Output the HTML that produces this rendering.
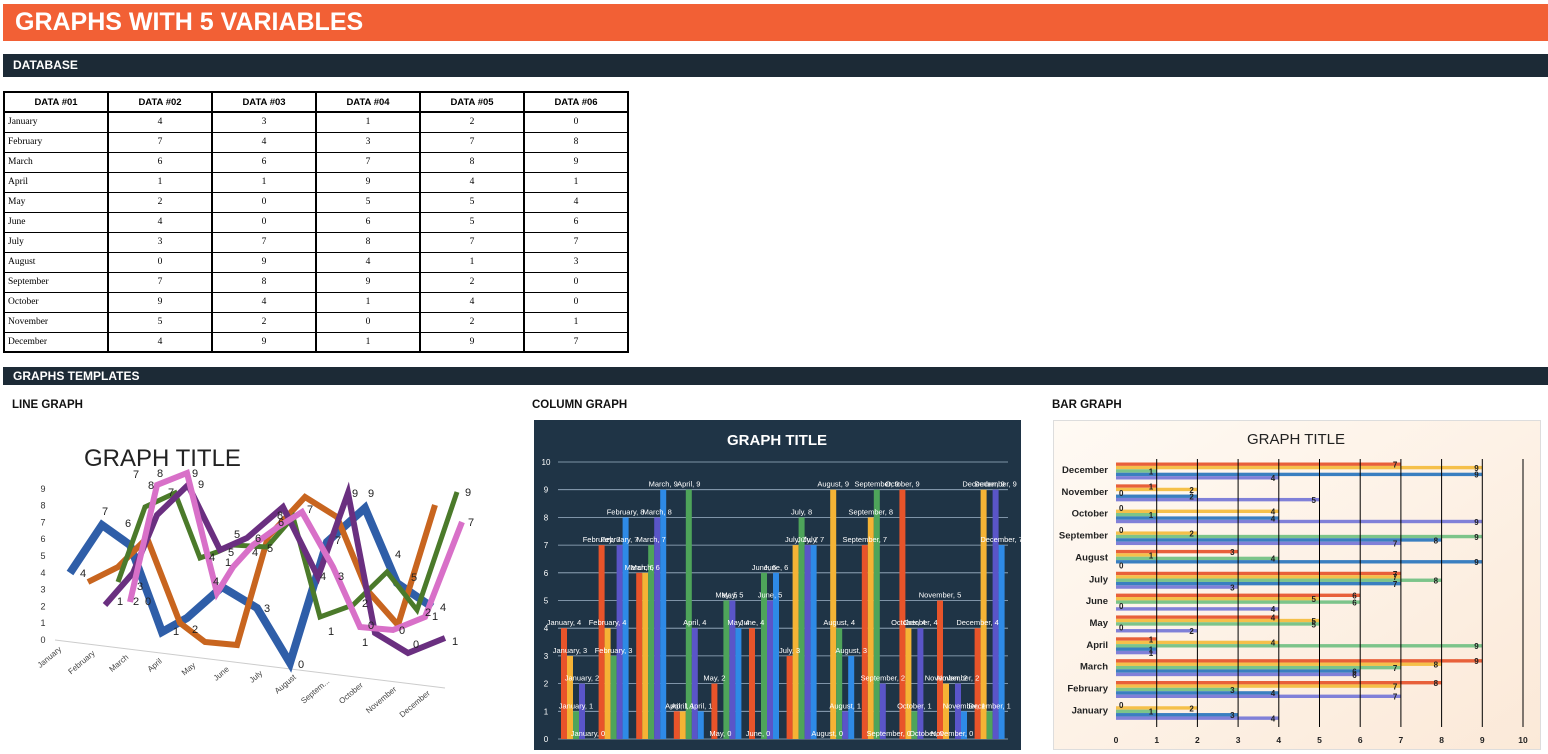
<!DOCTYPE html>
<html><head><meta charset="utf-8"><style>
*{margin:0;padding:0;box-sizing:border-box}
body{width:1548px;height:754px;background:#fff;position:relative;overflow:hidden;font-family:"Liberation Sans",sans-serif}
.abs{position:absolute}
.title{left:3px;top:4px;width:1545px;height:37px;background:#f26035;color:#fff;font-weight:bold;font-size:25px;line-height:37px;padding-left:12px}
.sec{left:3px;width:1545px;background:#1c2a36;color:#fff;font-weight:bold;font-size:12px;padding-left:10px}
.lab{font-weight:bold;font-size:11.5px;color:#111}
table{position:absolute;left:3px;top:91px;border-collapse:collapse;border:2px solid #000}
td,th{width:104px;height:20px;border:1px solid #000;font-size:9.5px;text-align:center;font-family:"Liberation Serif",serif}
th{font-family:"Liberation Sans",sans-serif;font-weight:bold;border-bottom:2px solid #000;border-right:2px solid #000}
td{border-right:2px solid #000}
td:first-child{text-align:left;padding-left:3px}
</style></head><body>
<div class="abs title">GRAPHS WITH 5 VARIABLES</div>
<div class="abs sec" style="top:54px;height:23px;line-height:23px">DATABASE</div>
<table id="tb"><tr><th>DATA #01</th><th>DATA #02</th><th>DATA #03</th><th>DATA #04</th><th>DATA #05</th><th>DATA #06</th></tr></table>
<div class="abs sec" style="top:367px;height:18px;line-height:18px">GRAPHS TEMPLATES</div>
<div class="abs lab" style="left:12px;top:399px">LINE GRAPH</div>
<div class="abs lab" style="left:532px;top:399px">COLUMN GRAPH</div>
<div class="abs lab" style="left:1052px;top:399px">BAR GRAPH</div>
<svg id="sv" class="abs" style="left:0;top:0" width="1548" height="754" font-family="Liberation Sans, sans-serif"></svg>
<script>
var M=["January","February","March","April","May","June","July","August","September","October","November","December"];
var D=[[4,3,1,2,0],[7,4,3,7,8],[6,6,7,8,9],[1,1,9,4,1],[2,0,5,5,4],[4,0,6,5,6],[3,7,8,7,7],[0,9,4,1,3],[7,8,9,2,0],[9,4,1,4,0],[5,2,0,2,1],[4,9,1,9,7]];
var tb=document.getElementById('tb');
D.forEach(function(r,i){var tr=document.createElement('tr');tr.innerHTML='<td>'+M[i]+'</td>'+r.map(function(v){return '<td>'+v+'</td>'}).join('');tb.appendChild(tr);});
var s='';
s+='<text x="84" y="466" font-size="24" fill="#222">GRAPH TITLE</text>';
for(var k=0;k<=9;k++)s+='<text x="43" y="'+(643-k*16.8)+'" font-size="9" text-anchor="middle" fill="#333">'+k+'</text>';
s+='<line x1="55" y1="640" x2="445" y2="688" stroke="#ccc"/>';
M.forEach(function(m,i){var x=62+i*33.5,y=650+i*4;s+='<text transform="translate('+x+','+y+') rotate(-40)" font-size="8" text-anchor="end" fill="#444">'+(i==8?"Septem...":m)+'</text>'});
var L=[["#2f5ea8",8,"70,573 102,525 130,545 162,632 187,618 222,587 257,608 290,663 327,542 365,508 397,583 432,607"],
["#c8651f",6,"88,582 118,567 147,538 180,623 205,642 237,645 268,537 305,497 337,517 367,590 398,625 435,505"],
["#4b7a2a",5,"118,582 145,507 175,493 200,558 217,552 233,545 267,547 293,517 320,617 353,605 387,572 417,610 457,492"],
["#6a2f80",6,"105,605 133,573 157,515 188,485 220,550 247,538 283,507 318,577 348,493 375,633 408,653 445,638"],
["#d870c8",6,"130,602 157,485 187,473 217,593 233,567 253,545 278,527 302,512 333,567 360,627 393,630 425,617 462,522"]];
L.forEach(function(l){s+='<polyline points="'+l[2]+'" fill="none" stroke="'+l[0]+'" stroke-width="'+l[1]+'" stroke-linejoin="miter"/>'});
var LL=[[80,577,4],[102,515,7],[125,527,6],[148,489,8],[157,477,8],[133,478,7],[117,605,1],[133,605,2],[145,605,0],[137,590,3],[192,477,9],[198,488,9],[168,496,7],[234,538,5],[228,556,5],[209,561,4],[213,585,4],[225,566,1],[252,556,4],[255,542,6],[267,552,5],[173,635,1],[192,633,2],[264,612,3],[277,519,8],[307,513,7],[278,526,6],[298,668,0],[320,580,4],[338,580,3],[328,635,1],[352,497,9],[368,497,9],[335,544,7],[362,607,2],[368,629,0],[362,646,1],[395,558,4],[411,581,5],[413,648,0],[399,634,0],[425,616,2],[432,620,1],[440,611,4],[452,645,1],[465,496,9],[468,526,7]];
LL.forEach(function(a){s+='<text x="'+a[0]+'" y="'+a[1]+'" font-size="11" fill="#222">'+a[2]+'</text>'});
s+='<rect x="534" y="420" width="487" height="330" fill="#1f3446"/>';
s+='<text x="777" y="445" font-size="15" font-weight="bold" fill="#fff" text-anchor="middle">GRAPH TITLE</text>';
var cz=739,cs=27.7;
for(k=0;k<=10;k++){var y=cz-k*cs;s+='<line x1="558" y1="'+y+'" x2="1008" y2="'+y+'" stroke="#9fb3c8" stroke-width="0.8"/><text x="546" y="'+(y+3)+'" font-size="8" fill="#fff" text-anchor="middle">'+k+'</text>'}
var CC=["#e8542a","#f5b335","#4ea45a","#5a55c8","#2e8ae6"];
var lbl='';
D.forEach(function(r,i){r.forEach(function(v,j){var x=561+i*37.6+j*6,h=v*cs;s+='<rect x="'+x+'" y="'+(cz-h)+'" width="6" height="'+h+'" fill="'+CC[j]+'"/>';lbl+='<text x="'+(x+3)+'" y="'+(cz-h-3)+'" font-size="7.5" fill="#fff" text-anchor="middle">'+M[i]+', '+v+'</text>'})});
s+=lbl;
s+='<defs><linearGradient id="bg" x1="0" y1="0" x2="1" y2="1"><stop offset="0" stop-color="#fffaf4"/><stop offset="1" stop-color="#fbe9d8"/></linearGradient></defs>';
s+='<rect x="1053.5" y="420.5" width="487" height="329" fill="url(#bg)" stroke="#ddd"/>';
s+='<text x="1296" y="444" font-size="15" fill="#222" text-anchor="middle">GRAPH TITLE</text>';
var bx=1116,bs=40.7,BC=["#e8603a","#f5c04a","#7cc48a","#3a7fc0","#8080d8"];
var bl='';
for(i=0;i<12;i++){var mi=11-i,gy=462+i*21.85,r=D[mi],vals=[r[4],r[3],r[2],r[1],r[0]];
 s+='<text x="1108" y="'+(gy+11)+'" font-size="9.5" font-weight="bold" text-anchor="end" fill="#222">'+M[mi]+'</text>';
 vals.forEach(function(v,j){var y=gy+0.5+j*3.4;s+='<rect x="'+bx+'" y="'+y+'" width="'+(v*bs)+'" height="3.4" fill="'+BC[j]+'"/>';bl+='<text x="'+(v==0?bx+3:bx+v*bs-8)+'" y="'+(y+5)+'" font-size="8" font-weight="bold" fill="#222">'+v+'</text>'})}
for(k=1;k<=10;k++){var x=bx+k*bs;s+='<line x1="'+x+'" y1="459" x2="'+x+'" y2="727" stroke="#000" stroke-width="1"/>'}
for(k=0;k<=10;k++)s+='<text x="'+(bx+k*bs)+'" y="743" font-size="8.5" font-weight="bold" text-anchor="middle" fill="#222">'+k+'</text>';
s+=bl;
document.getElementById('sv').innerHTML=s;
</script>
</body></html>
